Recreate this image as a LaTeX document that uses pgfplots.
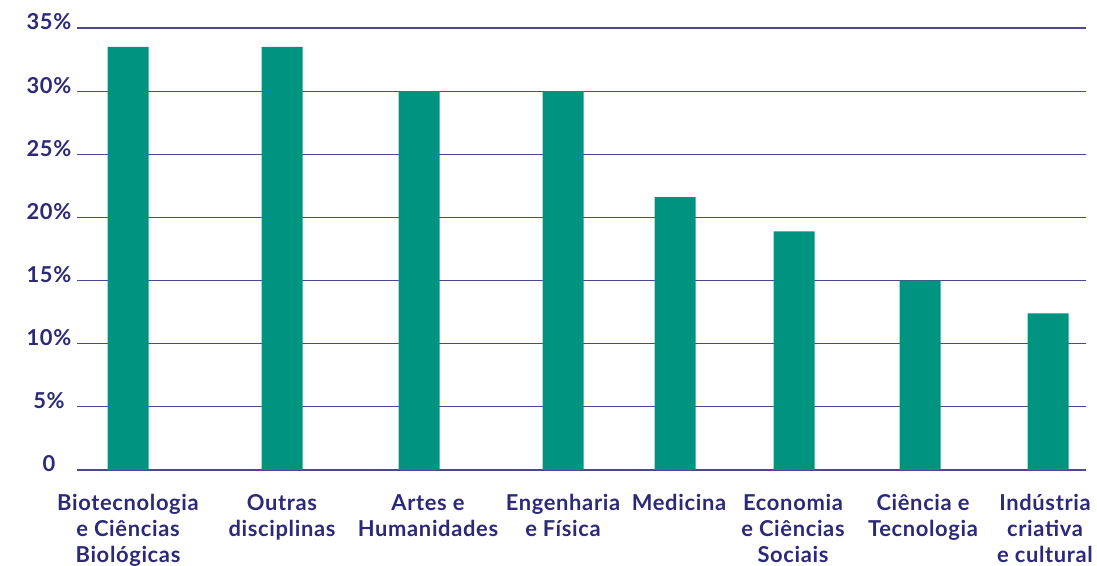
\documentclass[border=0pt]{standalone}
\usepackage{fontspec}
\setmainfont{Lato}[LetterSpace=3]
\usepackage{pgfplots}
\pgfplotsset{compat=1.18}
\definecolor{barcol}{HTML}{009380}
\definecolor{navy}{HTML}{2B2978}
\definecolor{gridcol}{HTML}{4A4890}
\begin{document}
\begin{tikzpicture}
\path[use as bounding box] (0,0) rectangle (1097bp,566bp);
\begin{axis}[
  at={(77bp,96bp)}, anchor=south west,
  scale only axis,
  width=1009bp, height=442bp,
  xmin=77, xmax=1086,
  ymin=0, ymax=35,
  axis line style={draw=none},
  major tick length=0pt,
  ymajorgrids,
  grid style={gridcol, line width=1.2bp},
  ytick={0,5,10,15,20,25,30,35},
  yticklabels={0,5\%,10\%,15\%,20\%,25\%,30\%,35\%},
  xtick={128,282,428,563,679,793,923,1045},
  xticklabels={
    {Biotecnologia\\e Ciências\\Biológicas},
    {Outras\\disciplinas},
    {Artes e\\Humanidades},
    {Engenharia\\e Física},
    {Medicina},
    {Economia\\e Ciências\\Sociais},
    {Ciência e\\Tecnologia},
    {Indústria\\criativa\\e cultural}},
  /pgf/number format/assume math mode=true,
  yticklabel style={anchor=center, xshift=-28bp, yshift=6bp, inner sep=0pt,
    font=\fontsize{22}{26}\selectfont\bfseries, text=navy},
  xticklabel style={anchor=north, align=center, inner sep=0pt, yshift=-24.5bp,
    font=\fontsize{22}{26}\selectfont\bfseries, text=navy},
]
\addplot[ybar, bar width=41, fill=barcol, draw=none] coordinates {
  (128,33.5)
  (282,33.5)
  (419,30)
  (563,30)
  (675,21.6)
  (794,18.9)
  (920,15)
  (1048,12.4)
};
\end{axis}
\end{tikzpicture}
\end{document}
